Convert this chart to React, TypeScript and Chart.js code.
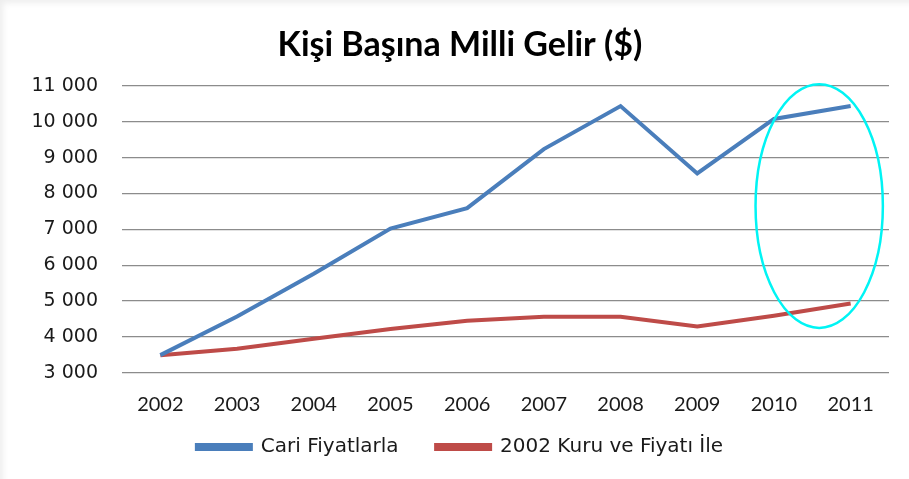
import React, { useEffect, useRef } from "react";
import { Chart, registerables } from "chart.js";

Chart.register(...registerables);

const titleText = "Kişi Başına Milli Gelir ($)";
const years = ["2002", "2003", "2004", "2005", "2006", "2007", "2008", "2009", "2010", "2011"];
const cariLabel = "Cari Fiyatlarla";
const cariValues = [3490, 4570, 5760, 7020, 7590, 9240, 10440, 8560, 10080, 10440];
const sabitLabel = "2002 Kuru ve Fiyatı İle";
const sabitValues = [3490, 3670, 3950, 4220, 4450, 4560, 4560, 4290, 4590, 4930];
const yMin = 3000;
const yMax = 11000;
const yStep = 1000;
// highlight ellipse, in data units (category index / value)
const ellipseCenterIndex = 8.59;
const ellipseHalfWidthIndex = 0.83;
const ellipseTopValue = 11050;
const ellipseBottomValue = 4250;

const ellipsePlugin = {
  id: "highlightEllipse",
  afterDatasetsDraw(chart: any) {
    const x = chart.scales.x;
    const y = chart.scales.y;
    const cx = x.getPixelForValue(ellipseCenterIndex);
    const rx = Math.abs(x.getPixelForValue(ellipseCenterIndex + ellipseHalfWidthIndex) - cx);
    const top = y.getPixelForValue(ellipseTopValue);
    const bottom = y.getPixelForValue(ellipseBottomValue);
    const ctx = chart.ctx;
    ctx.save();
    ctx.beginPath();
    ctx.ellipse(cx, (top + bottom) / 2, rx, (bottom - top) / 2, 0, 0, Math.PI * 2);
    ctx.strokeStyle = "#00f4f4";
    ctx.lineWidth = 2.5;
    ctx.stroke();
    ctx.restore();
  },
};

export default function App() {
  const ref = useRef<HTMLCanvasElement>(null);
  useEffect(() => {
    document.body.style.margin = "0";
    const chart = new Chart(ref.current as HTMLCanvasElement, {
      type: "line",
      data: {
        labels: years,
        datasets: [
          {
            label: cariLabel,
            data: cariValues,
            borderColor: "#4a7ebb",
            backgroundColor: "#4a7ebb",
            borderWidth: 4,
            pointRadius: 0,
            tension: 0,
          },
          {
            label: sabitLabel,
            data: sabitValues,
            borderColor: "#be4b48",
            backgroundColor: "#be4b48",
            borderWidth: 4,
            pointRadius: 0,
            tension: 0,
          },
        ],
      },
      options: {
        animation: false,
        responsive: false,
        maintainAspectRatio: false,
        layout: { padding: { left: 11, right: 0, top: 0, bottom: 12 } },
        plugins: {
          tooltip: { enabled: false },
          title: {
            display: true,
            text: titleText,
            color: "#000",
            font: { family: "Lato", size: 34, weight: "bold", lineHeight: 1.2 },
            padding: { top: 24.6, bottom: 20.6 },
          },
          legend: {
            position: "bottom",
            labels: {
              boxWidth: 54,
              boxHeight: 4,
              padding: 37.5,
              color: "#1a1a1a",
              font: { family: "DejaVu Sans", size: 20 },
            },
          },
        },
        scales: {
          x: {
            offset: true,
            grid: { display: false, drawTicks: false },
            border: { display: false },
            ticks: {
              padding: 20,
              color: "#1a1a1a",
              font: { family: "Lato", size: 20 },
              maxRotation: 0,
              autoSkip: false,
            },
            afterFit(scale: any) {
              scale.height = 26.8;
              scale._computeLabelArea = () => undefined;
            },
          },
          y: {
            min: yMin,
            max: yMax,
            grid: { color: "#8c8c8c", lineWidth: 1.2, drawTicks: false },
            border: { display: false },
            ticks: {
              stepSize: yStep,
              padding: 24,
              color: "#1a1a1a",
              font: { family: "DejaVu Sans", size: 19 },
              callback: (v: any) => String(Number(v)).replace(/\B(?=(\d{3})+(?!\d))/g, " "),
            },
            afterFit(scale: any) {
              scale.width = 111;
            },
          },
          yRight: {
            position: "right",
            display: true,
            min: yMin,
            max: yMax,
            grid: { display: false, drawTicks: false },
            border: { display: false },
            ticks: { display: false },
            afterFit(scale: any) {
              scale.width = 20;
            },
          },
        },
      },
      plugins: [ellipsePlugin],
    });
    return () => chart.destroy();
  }, []);
  return (
    <div
      style={{
        position: "fixed",
        left: 0,
        top: 0,
        width: 909,
        height: 479,
        background: "#fff",
        boxShadow: "inset 6px 6px 6px -3px rgba(0,0,0,0.07)",
      }}
    >
      <canvas ref={ref} width={909} height={479} style={{ display: "block" }} />
    </div>
  );
}
